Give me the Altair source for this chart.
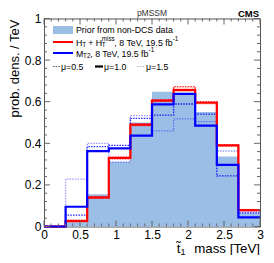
import altair as alt
import pandas as pd
import numpy as np

# ---- data (bin edges in TeV, probability density / TeV) ----
bin_edges = [0.0, 0.3, 0.6, 0.9, 1.2, 1.5, 1.8, 2.1, 2.4, 2.7]
prior   = [0.0, 0.020, 0.155, 0.310, 0.500, 0.648, 0.645, 0.550, 0.336, 0.063]
red_mu1 = [0.0, 0.026, 0.140, 0.330, 0.490, 0.605, 0.656, 0.595, 0.390, 0.079]
red_mu05 = [0.0, 0.030, 0.135, 0.325, 0.485, 0.610, 0.672, 0.600, 0.392, 0.080]
red_mu15 = [0.0, 0.025, 0.145, 0.335, 0.495, 0.600, 0.665, 0.590, 0.385, 0.075]
blue_mu1 = [0.0, 0.095, 0.362, 0.376, 0.437, 0.587, 0.637, 0.485, 0.296, 0.044]
blue_mu05 = [0.0, 0.055, 0.384, 0.390, 0.520, 0.535, 0.589, 0.540, 0.243, 0.065]
blue_mu15 = [0.0, 0.228, 0.400, 0.310, 0.533, 0.460, 0.517, 0.504, 0.363, 0.070]
x_major = [0, 0.5, 1, 1.5, 2, 2.5, 3]
y_major = [0, 0.2, 0.4, 0.6, 0.8, 1.0]

W, H = 216, 208
FONT = "Liberation Sans"

def step_df(vals):
    xs = bin_edges + [3.0]
    ys = list(vals) + [vals[-1]]
    return pd.DataFrame({"x": xs, "y": ys})

xs = alt.Scale(domain=[0, 3], nice=False, zero=False)
ys = alt.Scale(domain=[0, 1], nice=False, zero=False)

def X(f="x"):
    return alt.X(f"{f}:Q", scale=xs, title=None)

def Y(f="y"):
    return alt.Y(f"{f}:Q", scale=ys, title=None)

layers = []
layers.append(alt.Chart(step_df(prior)).mark_area(interpolate="step-after", color="#9bbee6", opacity=1)
              .encode(x=X(), y=Y()))

def line(vals, color, width=1.0, dash=None, opacity=1.0):
    kw = dict(interpolate="step-after", color=color, strokeWidth=width, opacity=opacity, strokeCap="butt")
    if dash:
        kw["strokeDash"] = dash
    return alt.Chart(step_df(vals)).mark_line(**kw).encode(x=X(), y=Y())

layers.append(line(red_mu15, "#ff0000", 1.3, [1.5, 1.2], 0.4))
layers.append(line(blue_mu15, "#0000ff", 1.3, [1.5, 1.2], 0.4))
layers.append(line(red_mu05, "#ff0000", 1.3, [1.5, 1.2], 0.85))
layers.append(line(blue_mu05, "#0000ff", 1.3, [1.5, 1.2], 0.85))
layers.append(line(red_mu1, "#ff0000", 2.2))
layers.append(line(blue_mu1, "#0000ff", 2.2))

# ---- inward ticks on all four sides ----
xminor = [v for v in np.round(np.arange(0, 3.0001, 0.1), 2) if not any(abs(v - m) < 1e-6 for m in x_major)]
yminor = [v for v in np.round(np.arange(0, 1.0001, 0.04), 2) if not any(abs(v - m) < 1e-6 for m in y_major)]
tcol = "#666"
for vals, ln in ((x_major, 6), (xminor, 3)):
    d = pd.DataFrame({"t": vals})
    layers.append(alt.Chart(d).mark_rule(color=tcol, strokeWidth=1).encode(x=X("t"), y=alt.value(H), y2=alt.value(H - ln)))
    layers.append(alt.Chart(d).mark_rule(color=tcol, strokeWidth=1).encode(x=X("t"), y=alt.value(0), y2=alt.value(ln)))
for vals, ln in ((y_major, 6), (yminor, 3)):
    d = pd.DataFrame({"t": vals})
    layers.append(alt.Chart(d).mark_rule(color=tcol, strokeWidth=1).encode(y=Y("t"), x=alt.value(0), x2=alt.value(ln)))
    layers.append(alt.Chart(d).mark_rule(color=tcol, strokeWidth=1).encode(y=Y("t"), x=alt.value(W), x2=alt.value(W - ln)))

one = pd.DataFrame({"a": [0]})

def txt(s, x, y, size, align="left", baseline="middle", bold=False, color="black", angle=0):
    kw = dict(text=s, align=align, baseline=baseline, fontSize=size, font=FONT, color=color)
    if bold:
        kw["fontWeight"] = "bold"
    if angle:
        kw["angle"] = angle
    return alt.Chart(one).mark_text(**kw).encode(x=alt.value(x), y=alt.value(y))

def hrule(x1, x2, y, color, width, dash=None, opacity=1.0):
    kw = dict(color=color, strokeWidth=width, opacity=opacity)
    if dash:
        kw["strokeDash"] = dash
    return alt.Chart(one).mark_rule(**kw).encode(x=alt.value(x1), x2=alt.value(x2), y=alt.value(y))

# ---- titles ----
layers.append(txt("pMSSM", W / 2, -2.5, 8.5, align="center", baseline="alphabetic", color="#333"))
layers.append(txt("CMS", W - 1, -1.5, 9.5, align="right", baseline="alphabetic", bold=True))
layers.append(txt("prob. dens. / TeV", -29, 1, 13, align="right", angle=270))
layers.append(txt("mass [TeV]", W, 234, 13.3, align="right", baseline="alphabetic"))
layers.append(txt("1", 141.5, 236, 9, align="right", baseline="alphabetic"))
layers.append(txt("t\u0303", 136.5, 234, 13.3, align="right", baseline="alphabetic"))

# ---- legend (manual) ----
AW = {' ': .278, '+': .584, ',': .278, '.': .278, '-': .333, 'H': .722, 'T': .611, 'e': .556,
      'V': .667, 'f': .278, 'b': .556, 'm': .833, 'i': .222, 's': .5, 'M': .833}
def tw(s, size):
    return sum(AW.get(c, .556) for c in s) * size * 0.97

MS, SS = 8.8, 6.3
def place(s, x, y, size):
    lead = len(s) - len(s.lstrip(" "))
    return txt(s.lstrip(" "), x + tw(" " * lead, size), y, size)

def rich(segs, x0, y):
    out = []
    x = x0
    for kind, s in segs:
        if kind == "main":
            out.append(place(s, x, y, MS)); x += tw(s, MS)
        elif kind == "sub":
            out.append(place(s, x, y + 2.6, SS)); x += tw(s, SS)
        elif kind == "sup":
            out.append(place(s, x, y - 3.4, SS)); x += tw(s, SS)
        elif kind == "subsup":
            a, b = s
            out.append(place(a, x, y + 2.6, SS)); out.append(place(b, x, y - 3.4, SS))
            x += max(tw(a, SS), tw(b, SS))
    return out

LX0, LX1, TX = 9, 29, 32
layers.append(alt.Chart(one).mark_rect(color="#9bbee6").encode(
    x=alt.value(LX0), x2=alt.value(LX1), y=alt.value(7.5), y2=alt.value(15.5)))
layers.append(txt("Prior from non-DCS data", TX, 11.5, MS))
layers.append(hrule(LX0, LX1, 23.5, "#ff0000", 2))
layers += rich([("main", "H"), ("sub", "T"), ("main", " + H"), ("subsup", ("T", "miss")),
                ("main", ", 8 TeV, 19.5 fb"), ("sup", "-1")], TX, 24)
layers.append(hrule(LX0, LX1, 34.5, "#0000ff", 2))
layers += rich([("main", "M"), ("sub", "T2"), ("main", ", 8 TeV, 19.5 fb"), ("sup", "-1")], TX, 35)
layers.append(hrule(9, 16, 48, "#555", 1.2, [1.5, 1.2]))
layers.append(txt("\u03bc=0.5", 17, 48.5, MS))
layers.append(hrule(51, 59, 48, "black", 2.2))
layers.append(txt("\u03bc=1.0", 60, 48.5, MS))
layers.append(hrule(93, 101, 48, "#555", 1.2, [1.5, 1.2], 0.45))
layers.append(txt("\u03bc=1.5", 102, 48.5, MS))

chart = alt.layer(*layers).properties(
    width=W, height=H,
    autosize=alt.AutoSizeParams(type="none"),
    padding={"left": 36, "top": 10.5, "right": 6, "bottom": 28.5},
).configure_view(stroke="#555", strokeWidth=1).configure_axis(
    ticks=False, domain=False, grid=False, labelFont=FONT, labelFontSize=12,
    labelColor="black", labelFlush=False, labelExpr="datum.value + ''", labelOverlap=False,
).configure_axisX(tickCount=6, labelPadding=3).configure_axisY(tickCount=5, labelPadding=3)

chart.save("out.html", embed_options={"renderer": "svg", "actions": False})
